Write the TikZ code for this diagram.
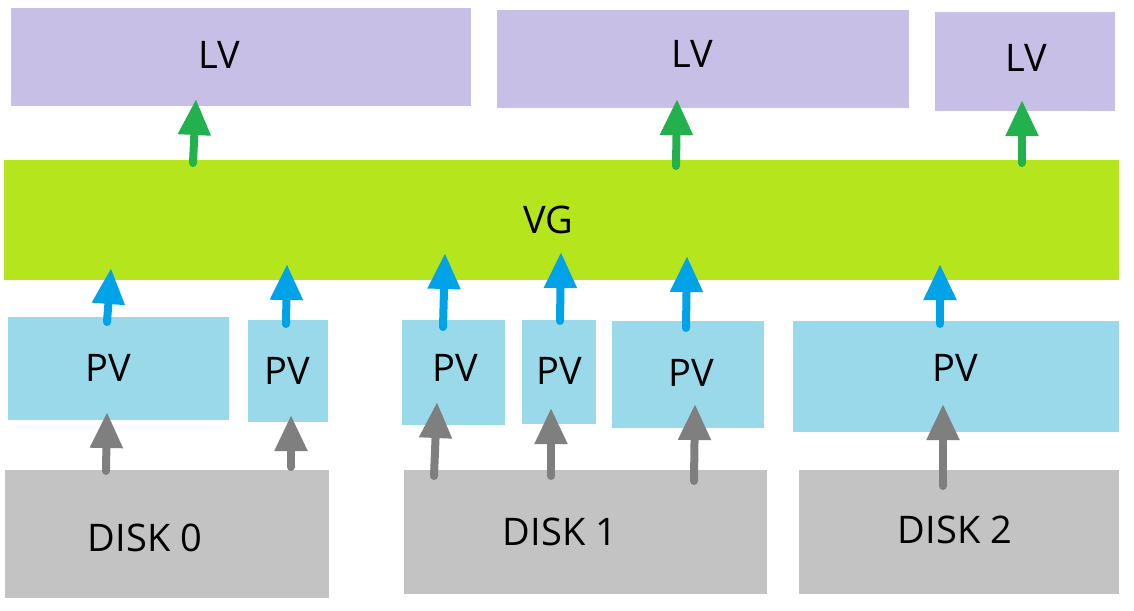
\documentclass[tikz,border=0pt]{standalone}
\usepackage{fontspec}
\setmainfont{Open Sans}
\usetikzlibrary{arrows.meta}
\definecolor{lvcol}{HTML}{C8BFE7}
\definecolor{vgcol}{HTML}{B5E61D}
\definecolor{pvcol}{HTML}{99D9EA}
\definecolor{diskcol}{HTML}{C3C3C3}
\definecolor{greenarr}{HTML}{22B14C}
\definecolor{bluearr}{HTML}{00A2E8}
\definecolor{grayarr}{HTML}{7F7F7F}

\begin{document}
\begin{tikzpicture}[x=1pt, y=-1pt,
  box/.style = {inner sep=0pt, outer sep=0pt},
  lbl/.style = {inner sep=0pt, font=\fontsize{38}{44}\selectfont},
  uparr/.style = {line width=8pt, line cap=round,
    -{Triangle[length=36pt, width=31pt]}}
]
\useasboundingbox (0,0) rectangle (1134,610);

% LV boxes
\fill[lvcol] (11,8) rectangle (471,106);
\fill[lvcol] (497,10) rectangle (909,108);
\fill[lvcol] (935,12) rectangle (1115,111);
\node[lbl] (lv1) at (219,55) {LV};
\node[lbl] (lv2) at (692,54) {LV};
\node[lbl] (lv3) at (1026,58) {LV};

% VG
\fill[vgcol] (4,160) rectangle (1119,280);
\node[lbl] (vg) at (548,220) {VG};

% PV boxes
\fill[pvcol] (8,317) rectangle (229,420);
\fill[pvcol] (248,320) rectangle (328,422);
\fill[pvcol] (402,320) rectangle (505,425);
\fill[pvcol] (522,320) rectangle (596,424);
\fill[pvcol] (612,321) rectangle (764,428);
\fill[pvcol] (793,321) rectangle (1119,432);
\node[lbl] (pv1) at (108,368) {PV};
\node[lbl] (pv2) at (287,371) {PV};
\node[lbl] (pv3) at (455,368) {PV};
\node[lbl] (pv4) at (559,371) {PV};
\node[lbl] (pv5) at (691,373) {PV};
\node[lbl] (pv6) at (955,368) {PV};

% disks
\fill[diskcol] (5,470) rectangle (329,598);
\fill[diskcol] (404,470) rectangle (767,594);
\fill[diskcol] (799,470) rectangle (1119,594);
\node[lbl] (d0) at (145,538) {DISK 0};
\node[lbl] (d1) at (560,532) {DISK 1};
\node[lbl] (d2) at (955,530) {DISK 2};

% arrow ends
\coordinate (g1a) at (193,163); \coordinate (g1b) at (196,99);
\coordinate (g2a) at (676,166); \coordinate (g2b) at (677,99);
\coordinate (g3a) at (1022,163); \coordinate (g3b) at (1022,100);
\coordinate (b1a) at (107,322); \coordinate (b1b) at (111,268);
\coordinate (b2a) at (286,324); \coordinate (b2b) at (287,264);
\coordinate (b3a) at (443,327); \coordinate (b3b) at (445,253);
\coordinate (b4a) at (560,321); \coordinate (b4b) at (561,252);
\coordinate (b5a) at (686,328); \coordinate (b5b) at (687,256);
\coordinate (b6a) at (940,324); \coordinate (b6b) at (940,264);
\coordinate (k1a) at (106,471); \coordinate (k1b) at (107,412);
\coordinate (k2a) at (291,467); \coordinate (k2b) at (291,415);
\coordinate (k3a) at (434,476); \coordinate (k3b) at (437,402);
\coordinate (k4a) at (551,476); \coordinate (k4b) at (551,408);
\coordinate (k5a) at (694,481); \coordinate (k5b) at (695,404);
\coordinate (k6a) at (943,486); \coordinate (k6b) at (943,404);

\foreach \i in {1,2,3}
  \draw[uparr, greenarr] (g\i a) -- (g\i b);
\foreach \i in {1,...,6}
  \draw[uparr, bluearr] (b\i a) -- (b\i b);
\foreach \i in {1,...,6}
  \draw[uparr, grayarr] (k\i a) -- (k\i b);
\end{tikzpicture}
\end{document}
